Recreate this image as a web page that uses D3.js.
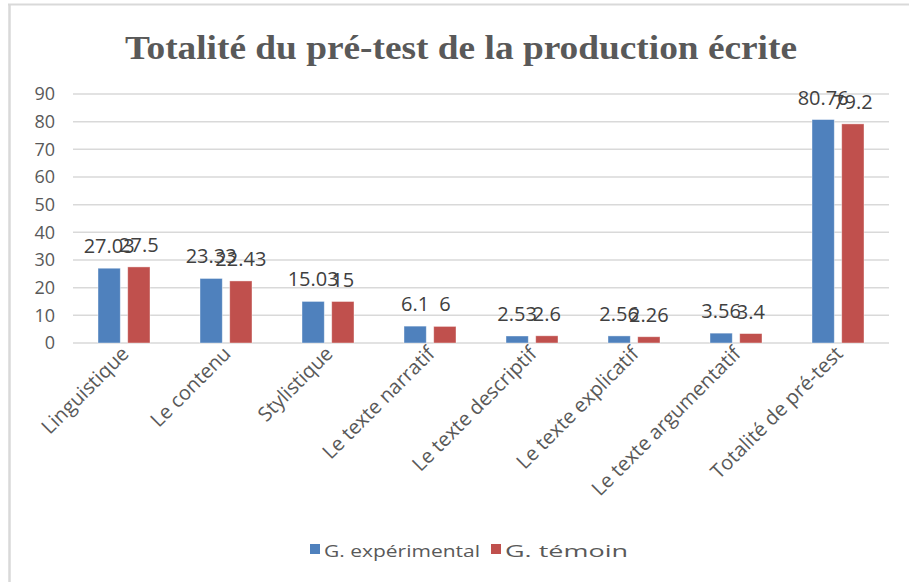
<!DOCTYPE html>
<html>
<head>
<meta charset="UTF-8" />
<title>Totalité du pré-test de la production écrite</title>
<script src="https://d3js.org/d3.v7.min.js"></script>
<style type="text/css">
body {
    margin: 0;
    background-color: white;
    font-family: "Open Sans", sans-serif;
}
</style>
</head>
<body>
<svg id="chart" width="909" height="582"></svg>

<script type="text/javascript">
// categories and series values
var categories = ['Linguistique', 'Le contenu', 'Stylistique', 'Le texte narratif',
    'Le texte descriptif', 'Le texte explicatif', 'Le texte argumentatif', 'Totalité de pré-test'];
var seriesNames = ['G. expérimental', 'G. témoin'];
var experimental = [27.03, 23.33, 15.03, 6.1, 2.53, 2.56, 3.56, 80.76];
var temoin = [27.5, 22.43, 15, 6, 2.6, 2.26, 3.4, 79.2];
var yTicks = [0, 10, 20, 30, 40, 50, 60, 70, 80, 90];
var colors = ['#4f81bd', '#c0504d'];

var svg = d3.select('#chart');

// outer frame (screenshot border)
svg.append('line').attr('x1', 8).attr('x2', 909).attr('y1', 4.5).attr('y2', 4.5)
    .attr('stroke', '#d9d9d9').attr('stroke-width', 2);
svg.append('line').attr('x1', 9.5).attr('x2', 9.5).attr('y1', 4).attr('y2', 582)
    .attr('stroke', '#d9d9d9').attr('stroke-width', 2.5);

// title (condensed look)
svg.append('text')
    .attr('x', 461).attr('y', 59)
    .attr('text-anchor', 'middle')
    .attr('font-family', '"Liberation Serif", serif')
    .attr('font-weight', 'bold')
    .attr('font-size', 33)
    .attr('fill', '#595959')
    .attr('textLength', 672)
    .attr('lengthAdjust', 'spacingAndGlyphs')
    .text('Totalité du pré-test de la production écrite');

var x0 = d3.scaleBand().domain(categories).range([73, 889]);
var x1 = d3.scaleBand().domain(seriesNames).range([25, 77]).paddingInner(0.25);
var y = d3.scaleLinear().domain([0, 90]).range([343, 94]);

// gridlines
svg.append('g').selectAll('line').data(yTicks).enter().append('line')
    .attr('x1', 73).attr('x2', 889)
    .attr('y1', function(d) { return y(d); })
    .attr('y2', function(d) { return y(d); })
    .attr('stroke', '#d9d9d9').attr('stroke-width', 1.5);

// y axis labels
var yAxis = d3.axisLeft(y).tickValues(yTicks).tickSize(0).tickPadding(0);
var gy = svg.append('g').attr('transform', 'translate(55,0)').call(yAxis);
gy.select('.domain').remove();
gy.selectAll('text')
    .attr('font-family', '"Open Sans", sans-serif')
    .attr('font-size', 18)
    .attr('fill', '#595959');

var rows = categories.map(function(c, i) {
    return { cat: c, values: [experimental[i], temoin[i]] };
});

var groups = svg.append('g').selectAll('g').data(rows).enter().append('g')
    .attr('transform', function(d) { return 'translate(' + x0(d.cat) + ',0)'; });

groups.selectAll('rect').data(function(d) {
    return d.values.map(function(v, j) { return { s: seriesNames[j], v: v, j: j }; });
}).enter().append('rect')
    .attr('x', function(d) { return x1(d.s); })
    .attr('width', x1.bandwidth())
    .attr('y', function(d) { return y(d.v); })
    .attr('height', function(d) { return y(0) - y(d.v); })
    .attr('fill', function(d) { return colors[d.j]; })
    .attr('stroke', '#ffffff').attr('stroke-opacity', 0.5).attr('stroke-width', 0.8);

// data labels
groups.selectAll('text').data(function(d) {
    return d.values.map(function(v, j) { return { s: seriesNames[j], v: v }; });
}).enter().append('text')
    .attr('x', function(d) { return x1(d.s) + x1.bandwidth() / 2; })
    .attr('y', function(d) { return y(d.v) - 15; })
    .attr('text-anchor', 'middle')
    .attr('font-family', '"Open Sans", sans-serif')
    .attr('font-size', 20)
    .attr('fill', '#404040')
    .text(function(d) { return d.v; });

// category labels, rotated
svg.append('g').selectAll('text').data(categories).enter().append('text')
    .attr('transform', function(d) {
        return 'translate(' + (x0(d) + x0.bandwidth() / 2 + 6) + ',355) rotate(-45)';
    })
    .attr('text-anchor', 'end')
    .attr('font-family', '"Open Sans", sans-serif')
    .attr('font-size', 20)
    .attr('fill', '#595959')
    .text(function(d) { return d; });

// legend
var legendX = [310, 491];
var legendW = [156, 123];
var legend = svg.append('g').selectAll('g').data(seriesNames).enter().append('g')
    .attr('transform', function(d, i) { return 'translate(' + legendX[i] + ',544)'; });
legend.append('rect').attr('width', 10).attr('height', 10)
    .attr('fill', function(d, i) { return colors[i]; });
legend.append('text')
    .attr('x', 14).attr('y', 13)
    .attr('font-family', '"Open Sans", sans-serif')
    .attr('font-size', 17)
    .attr('fill', '#595959')
    .attr('textLength', function(d, i) { return legendW[i]; })
    .attr('lengthAdjust', 'spacingAndGlyphs')
    .text(function(d) { return d; });
</script>
</body>
</html>
